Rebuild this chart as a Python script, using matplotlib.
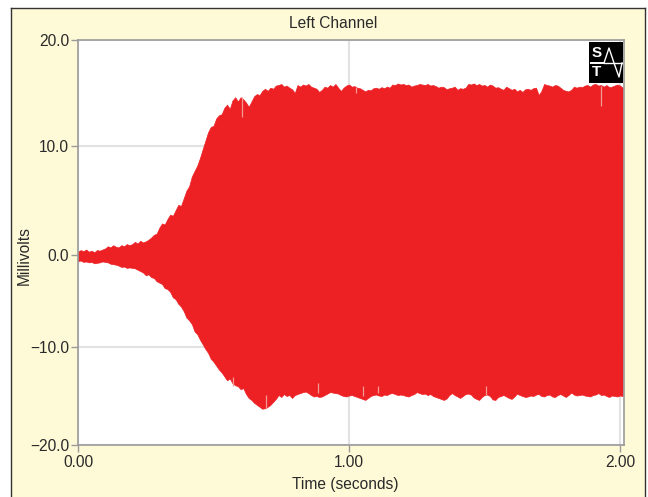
#!/usr/bin/env python3
# -*- coding: utf-8 -*-
import numpy as np
import matplotlib
matplotlib.use('Agg')
import matplotlib.pyplot as plt
from matplotlib.patches import Rectangle
from matplotlib.lines import Line2D

plt.rcParams['font.family'] = ['Liberation Sans', 'DejaVu Sans']

# envelope of the trace, one value every 0.01 s (millivolts)
upper = [
    .3, .45, .35, .5, .3, .4, .25, .45, .4, .5,
    .6, .8, .7, .9, .75, .7, .9, .8, 1.0, .9,
    1.0, 1.2, 1.05, 1.3, 1.15, 1.25, 1.4, 1.6, 1.85, 1.95,
    2.5, 2.9, 2.8, 3.3, 3.7, 3.6, 4.1, 4.6, 4.5, 5.2,
    5.9, 6.3, 7.2, 7.7, 8.2, 8.9, 9.7, 10.5, 11.3, 11.8,
    11.9, 12.6, 12.9, 13.0, 13.6, 13.9, 13.5, 14.3, 14.6, 14.2,
    14.6, 14.4, 14.1, 13.7, 14.2, 14.7, 14.9, 14.8, 15.2, 15.4,
    15.2, 15.5, 15.4, 15.7, 15.75, 15.85, 15.6, 15.7, 15.5, 15.35,
    15.0, 15.75, 15.6, 15.8, 15.7, 15.85, 15.6, 15.5, 15.4, 15.1,
    15.3, 15.6, 15.5, 15.75, 15.6, 15.85, 15.5, 15.2, 15.5, 15.7,
    15.8, 15.6, 15.65, 15.5, 15.45, 15.3, 15.15, 15.3, 15.25, 15.45,
    15.5, 15.4, 15.55, 15.45, 15.6, 15.5, 15.8, 15.75, 15.9, 15.8,
    15.85, 15.75, 15.8, 15.6, 15.7, 15.75, 15.85, 15.8, 15.75, 15.85,
    15.7, 15.75, 15.65, 15.5, 15.6, 15.55, 15.35, 15.45, 15.5, 15.6,
    15.3, 15.45, 15.4, 15.5, 15.85, 15.8, 15.9, 15.75, 15.85, 15.7,
    15.75, 15.6, 15.8, 15.7, 15.5, 15.55, 15.4, 15.3, 15.6, 15.45,
    15.3, 15.4, 15.15, 15.3, 15.1, 15.35, 15.4, 15.3, 15.45, 15.5,
    14.8, 15.2, 15.85, 15.75, 15.7, 15.6, 15.75, 15.7, 15.5, 15.3,
    15.2, 15.15, 15.3, 15.6, 15.5, 15.6, 15.55, 15.7, 15.75, 15.6,
    15.8, 15.85, 15.7, 15.75, 15.6, 15.75, 15.55, 15.6, 15.7, 15.8,
    15.7, 15.5,
]
lower = [
    -.65, -.6, -.75, -.7, -.8, -.75, -.9, -.85, -.8, -.7,
    -.75, -.8, -.95, -1.0, -1.05, -1.15, -1.3, -1.25, -1.4, -1.35,
    -1.4, -1.45, -1.6, -1.75, -1.9, -2.2, -2.1, -2.4, -2.5, -2.85,
    -3.0, -3.15, -3.6, -3.7, -4.0, -4.6, -4.8, -5.3, -5.6, -6.1,
    -6.8, -7.1, -7.5, -8.3, -8.6, -9.2, -9.7, -10.2, -10.6, -11.2,
    -11.5, -11.9, -12.3, -12.6, -13.0, -13.4, -13.2, -13.7, -13.9, -14.0,
    -14.3, -14.2, -14.8, -15.2, -15.4, -15.7, -15.9, -16.1, -16.3, -16.25,
    -16.1, -15.9, -15.6, -15.3, -14.9, -15.1, -14.8, -15.0, -14.9, -15.2,
    -14.9, -14.8, -14.7, -14.6, -14.55, -14.7, -14.9, -15.05, -15.0, -15.1,
    -15.05, -14.9, -14.75, -14.6, -14.65, -14.7, -14.75, -14.9, -15.0, -15.05,
    -14.95, -14.9, -15.0, -15.1, -15.2, -15.3, -15.4, -15.2, -15.0, -14.9,
    -14.85, -14.95, -15.0, -14.85, -14.9, -14.75, -14.7, -14.8, -14.9, -14.85,
    -14.9, -15.0, -15.05, -14.9, -14.8, -14.6, -14.7, -14.8, -14.75, -14.9,
    -14.8, -15.0, -15.1, -15.2, -15.3, -15.4, -15.25, -14.9, -14.7, -14.9,
    -15.05, -15.2, -15.0, -14.8, -14.75, -14.85, -15.15, -15.3, -15.4, -15.1,
    -14.9, -14.85, -15.0, -15.35, -15.4, -15.1, -15.0, -14.9, -15.05, -15.2,
    -15.3, -15.05, -14.75, -14.9, -15.0, -15.1, -15.05, -14.95, -15.0, -14.85,
    -14.8, -15.0, -15.05, -14.9, -14.85, -15.05, -15.1, -14.9, -14.8, -14.95,
    -15.1, -14.9, -14.65, -14.85, -14.95, -14.9, -14.85, -14.95, -15.0, -15.05,
    -14.9, -14.85, -14.7, -14.9, -14.85, -15.0, -15.1, -14.95, -15.0, -15.05,
    -14.95, -15.0,
]
time = [i / 100 for i in range(len(upper))]

# pale dropouts in the trace
streak_time = [0.604, 1.026, 1.93, 0.571, 0.693, 0.887, 1.05, 1.107, 1.505]
streak_from = [12.7, 15.0, 13.8, -13.1, -14.9, -13.7, -14.0, -14.0, -14.0]
streak_to = [14.6, 15.6, 15.7, -14.0, -16.2, -14.7, -15.0, -14.7, -14.9]

y_ticks = [-20, -10, 0, 10, 20]
y_labels = ['\u221220.0', '\u221210.0', '0.0', '10.0', '20.0']
y_pixels = [0, 98, 190, 299, 405]  # the printed axis is not evenly spaced
x_ticks = [0, 1, 2]
x_labels = ['0.00', '1.00', '2.00']

CREAM = '#fef9d6'
RED = '#ed2024'
GRID = '#e2e2e2'
AXIS = '#9a9a9a'
TEXT = '#2a2a2a'
W, H = 648, 497


def forward(v):
    return np.interp(v, [-40] + y_ticks + [40], [-200] + y_pixels + [605])


def inverse(p):
    return np.interp(p, [-200] + y_pixels + [605], [-40] + y_ticks + [40])


fig = plt.figure(figsize=(W / 100, H / 100), dpi=100, facecolor='white')

# cream panel with dark edge on top and sides
fig.patches.append(Rectangle((11 / W, 0), 634 / W, 1 - 8 / H, transform=fig.transFigure,
                             facecolor=CREAM, edgecolor='none', zorder=-2))
for xs, ys in [((11, 11), (0, H - 8)), ((645, 645), (0, H - 8)), ((11, 645), (H - 8, H - 8))]:
    fig.add_artist(Line2D([x / W for x in xs], [y / H for y in ys], color='#333333', lw=1.0))

ax = fig.add_axes([78 / W, 1 - 445 / H, 546 / W, 405 / H])
ax.set_facecolor('white')
ax.set_yscale('function', functions=(forward, inverse))
ax.set_xlim(0, 546 / 271)
ax.set_ylim(-20, 20)
ax.set_xticks(x_ticks, x_labels)
ax.set_yticks(y_ticks, y_labels)
ax.minorticks_off()
ax.tick_params(axis='both', length=5, width=1.0, color=AXIS, labelcolor=TEXT, labelsize=11.2)
ax.tick_params(axis='x', pad=2.5)
ax.tick_params(axis='y', pad=1.5)
for s in ax.spines.values():
    s.set_color(AXIS)
    s.set_linewidth(1.2)
ax.grid(True, color=GRID, lw=1.5, zorder=0)
ax.set_axisbelow(True)

ax.fill_between(time, lower, upper, color=RED, lw=0.5, zorder=2)
ax.vlines(streak_time, streak_from, streak_to, color='#f49a94', lw=0.9, zorder=3)

ax.set_title('Left Channel', fontsize=11.2, color=TEXT, x=0.467, pad=9)
ax.set_xlabel('Time (seconds)', fontsize=11.2, color=TEXT)
ax.xaxis.set_label_coords(0.489, -0.079)
ax.set_ylabel('Millivolts', fontsize=11.2, color=TEXT)
ax.yaxis.set_label_coords(-0.084, 0.467)

# company logo, top right of the plot
logo = fig.add_axes([589 / W, 1 - 83 / H, 34 / W, 41 / H])
logo.set_facecolor('black')
logo.set_xlim(0, 34)
logo.set_ylim(41, 0)
logo.set_xticks([])
logo.set_yticks([])
for s in logo.spines.values():
    s.set_visible(False)
logo.text(7.5, 11, 'S', color='white', fontsize=11, fontweight='bold', ha='center', va='center')
logo.plot([2, 14], [21, 21], color='white', lw=1.4)
logo.text(7.5, 30, 'T', color='white', fontsize=11, fontweight='bold', ha='center', va='center')
logo.plot([15, 20, 25, 30, 33], [21, 6, 21, 35, 21], color='white', lw=1.0)
logo.plot([15, 33], [21, 21], color='white', lw=1.0)

fig.savefig('out.png', dpi=100, facecolor='white')
